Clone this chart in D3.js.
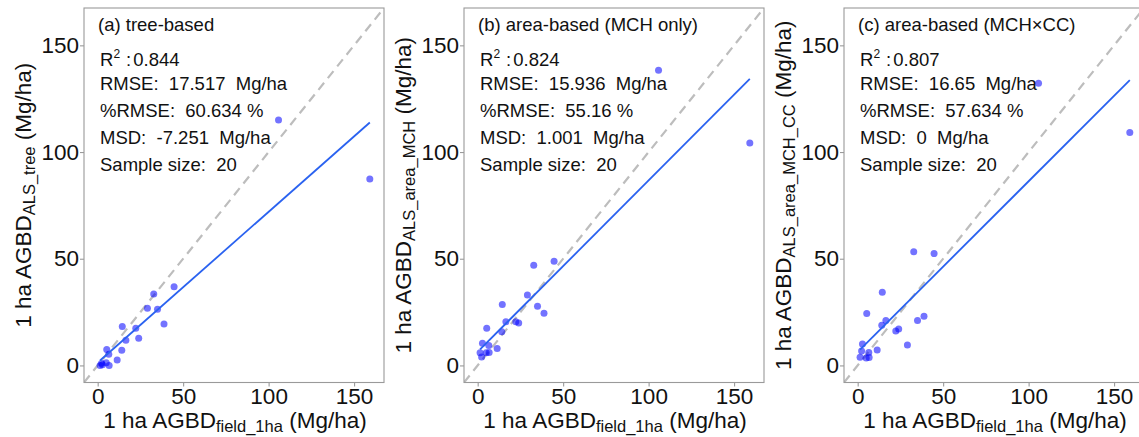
<!DOCTYPE html>
<html>
<head>
<meta charset="utf-8">
<script src="https://cdn.jsdelivr.net/npm/d3@7"></script>
<style>
  body { margin: 0; background: #fff; }
  svg { display: block; font-family: "Liberation Sans", Arial, sans-serif; }
</style>
</head>
<body>
<svg id="chart" width="1139" height="437"></svg>
<script>
// field AGBD (same plots in all three panels)
const fieldAGBD = [105.8, 159.2, 44.7, 32.8, 29.1, 35.0, 38.8, 14.4, 16.5, 22.3,
                   24.0, 5.3, 14.1, 2.8, 6.5, 11.4, 1.4, 5.0, 6.7, 2.3];
// ALS estimates per method
const alsTree     = [115.0, 87.4, 36.9, 33.5, 26.8, 26.3, 19.4, 18.2, 11.8, 17.4,
                     12.7, 7.5, 7.1, 0.3, 5.2, 2.5, 0.0, 1.3, 0.0, 1.0];
const alsAreaMCH  = [138.3, 104.2, 48.8, 46.9, 33.0, 27.7, 24.4, 28.5, 20.5, 20.5,
                     19.9, 17.4, 15.8, 10.4, 9.3, 7.9, 6.0, 6.0, 6.1, 4.0];
const alsAreaMCHCC = [132.2, 109.2, 52.4, 53.3, 9.6, 21.0, 23.0, 34.3, 21.1, 16.1,
                      17.1, 24.3, 18.8, 10.1, 6.1, 7.2, 3.8, 3.5, 3.7, 6.8];

const panelTitles = ["(a) tree-based", "(b) area-based (MCH only)", "(c) area-based (MCH\u00d7CC)"];
const ySubscripts = ["ALS_tree", "ALS_area_MCH", "ALS_area_MCH_CC"];
const r2Values    = ["0.844", "0.824", "0.807"];
const rmseValues  = ["17.517", "15.936", "16.65"];
const prmseValues = ["60.634", "55.16", "57.634"];
const msdValues   = ["-7.251", "1.001", "0"];
const sampleSizes = [20, 20, 20];
// fitted lm lines
const fitSlopes     = [0.707, 0.803, 0.800];
const fitIntercepts = [1.3, 6.4, 6.3];
const tickValues = [0, 50, 100, 150];

const seriesY = [alsTree, alsAreaMCH, alsAreaMCHCC];

const svg = d3.select("#chart");
const panelW = 300, panelH = 374.5, padLeft = 84, padTop = 8, step = 380;
const domain = [-8, 167.5];
const sp2 = "\u00a0\u00a0";

const x = d3.scaleLinear().domain(domain).range([0, panelW]);
const y = d3.scaleLinear().domain(domain).range([panelH, 0]);

svg.append("defs").append("clipPath").attr("id", "clip")
  .append("rect").attr("width", panelW).attr("height", panelH);

seriesY.forEach(function(vals, i) {
  let g = svg.append("g").attr("transform", "translate(" + (padLeft + i * step) + "," + padTop + ")");

  // axes
  let xAxis = g.append("g").attr("transform", "translate(0," + panelH + ")")
    .call(d3.axisBottom(x).tickValues(tickValues).tickSize(4).tickPadding(2));
  let yAxis = g.append("g")
    .call(d3.axisLeft(y).tickValues(tickValues).tickSize(4).tickPadding(1));
  [xAxis, yAxis].forEach(function(a) {
    a.select(".domain").remove();
    a.attr("font-size", null).attr("font-family", null);
    a.selectAll(".tick line").attr("stroke", "#9a9a9a").attr("stroke-width", 1.1);
    a.selectAll(".tick text").attr("fill", "#111").style("font-size", "22.5px");
  });

  let plot = g.append("g").attr("clip-path", "url(#clip)");

  // annotation text
  let tx = 16;
  g.append("text").attr("x", tx - 2).attr("y", 23).style("font-size", "18.5px")
    .attr("fill", "#111").text(panelTitles[i]);
  let r2 = g.append("text").attr("x", tx).attr("y", 57.5).style("font-size", "18.5px").attr("fill", "#111");
  r2.append("tspan").text("R");
  r2.append("tspan").attr("dy", -8).style("font-size", "12px").text("2");
  r2.append("tspan").attr("dy", 8).attr("dx", 6).text(":");
  r2.append("tspan").attr("dx", 2).text(r2Values[i]);
  let lines = [
    "RMSE:" + sp2 + rmseValues[i] + sp2 + "Mg/ha",
    "%RMSE:" + sp2 + prmseValues[i] + "\u00a0%",
    "MSD:" + sp2 + msdValues[i] + sp2 + "Mg/ha",
    "Sample size:" + sp2 + sampleSizes[i]
  ];
  lines.forEach(function(t, k) {
    g.append("text").attr("x", tx).attr("y", [81.5, 109, 136, 163][k])
      .style("font-size", "18.5px").attr("fill", "#111").text(t);
  });

  // 1:1 line
  plot.append("line")
    .attr("x1", x(domain[0])).attr("y1", y(domain[0]))
    .attr("x2", x(domain[1])).attr("y2", y(domain[1]))
    .attr("stroke", "#bdbdbd").attr("stroke-width", 2.2).attr("stroke-dasharray", "9,6");

  // points
  plot.selectAll("circle").data(fieldAGBD).enter().append("circle")
    .attr("cx", function(d) { return x(d); })
    .attr("cy", function(d, k) { return y(vals[k]); })
    .attr("r", 3.5)
    .attr("fill", "blue").attr("fill-opacity", 0.55);

  // fitted line
  let xMin = d3.min(fieldAGBD), xMax = d3.max(fieldAGBD);
  plot.append("line")
    .attr("x1", x(xMin)).attr("y1", y(fitIntercepts[i] + fitSlopes[i] * xMin))
    .attr("x2", x(xMax)).attr("y2", y(fitIntercepts[i] + fitSlopes[i] * xMax))
    .attr("stroke", "#2a62f0").attr("stroke-width", 1.8);

  // panel border
  g.append("rect").attr("width", panelW).attr("height", panelH)
    .attr("fill", "none").attr("stroke", "#9a9a9a").attr("stroke-width", 1.1);

  // x title
  let xt = g.append("text").attr("x", panelW / 2 + 1).attr("y", 427.5 - padTop)
    .attr("text-anchor", "middle").style("font-size", "22.5px").attr("fill", "#111");
  xt.append("tspan").text("1 ha AGBD");
  xt.append("tspan").attr("dy", 4).style("font-size", "16.5px").text("field_1ha");
  xt.append("tspan").attr("dy", -4).text("\u00a0(Mg/ha)");

  // y title
  let yt = g.append("text")
    .attr("transform", "translate(" + (31 - padLeft) + "," + (panelH / 2) + ") rotate(-90)")
    .attr("text-anchor", "middle").style("font-size", "22.5px").attr("fill", "#111");
  yt.append("tspan").text("1 ha AGBD");
  yt.append("tspan").attr("dy", 4).style("font-size", "16.5px").text(ySubscripts[i]);
  yt.append("tspan").attr("dy", -4).text("\u00a0(Mg/ha)");
});
</script>
</body>
</html>
